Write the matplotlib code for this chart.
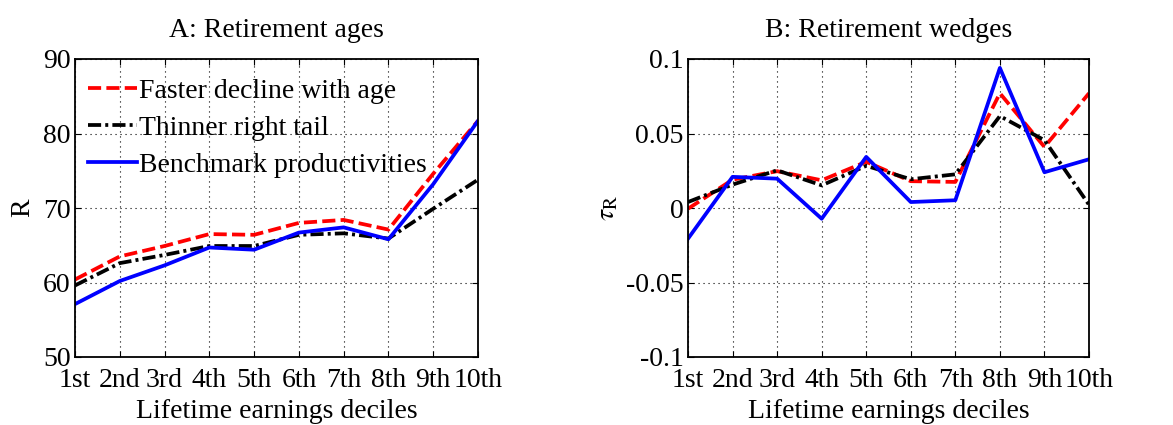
import numpy as np
import matplotlib
matplotlib.use('Agg')
import matplotlib.pyplot as plt

matplotlib.rcParams.update({'font.family': 'Liberation Serif',
                            'mathtext.fontset': 'stix',
                            'font.size': 20})

deciles = ['1st', '2nd', '3rd', '4th', '5th', '6th', '7th', '8th', '9th', '10th']

# Panel A: retirement ages
ages_faster = [60.4, 63.5, 64.9, 66.5, 66.4, 68.0, 68.4, 67.1, 74.6, 81.7]
ages_thinner = [59.6, 62.6, 63.7, 64.9, 64.9, 66.4, 66.6, 65.9, 69.9, 73.8]
ages_bench = [57.1, 60.2, 62.3, 64.7, 64.4, 66.7, 67.4, 65.8, 73.2, 81.7]

# Panel B: retirement wedges
wedge_faster = [-0.0005, 0.019, 0.0247, 0.0186, 0.031, 0.018, 0.0175, 0.077, 0.041, 0.077]
wedge_thinner = [0.004, 0.0157, 0.0253, 0.0152, 0.0283, 0.0193, 0.0226, 0.0617, 0.0455, 0.0022]
wedge_bench = [-0.0206, 0.0209, 0.0197, -0.0072, 0.0343, 0.004, 0.0052, 0.094, 0.024, 0.0327]

labels = ['Faster decline with age', 'Thinner right tail', 'Benchmark productivities']

x = np.arange(1, 11)

fig = plt.figure(figsize=(11.73, 4.25), dpi=100)
ax1 = fig.add_axes([75/1173, 1-357/425, 403/1173, 298/425])
ax2 = fig.add_axes([688/1173, 1-357/425, 401/1173, 298/425])

lw = 2.7
red_ls = (0, (3.5, 1.4))
blk_ls = (0, (3.5, 1.1, 0.8, 1.1))


def style(ax):
    ax.set_xlim(1, 10)
    ax.set_xticks(x)
    ax.set_xticklabels(deciles)
    ax.grid(True, color='black', linestyle=(0, (1, 3.5)), linewidth=0.8)
    ax.tick_params(direction='in', top=True, right=True, length=4, pad=3)
    ax.tick_params(axis='x', pad=8)
    for s in ax.spines.values():
        s.set_linewidth(1.3)
    ax.set_xlabel('Lifetime earnings deciles', labelpad=4)


ax1.plot(x, ages_faster, color='red', linestyle=red_ls, linewidth=lw, label=labels[0])
ax1.plot(x, ages_thinner, color='black', linestyle=blk_ls, linewidth=lw, label=labels[1])
ax1.plot(x, ages_bench, color='blue', linestyle='-', linewidth=lw, label=labels[2])
style(ax1)
ax1.set_ylim(50, 90)
ax1.set_yticks([50, 60, 70, 80, 90])
ax1.set_ylabel('R', labelpad=6)
ax1.set_title('A: Retirement ages', fontsize=20, pad=16)
ax1.legend(loc='upper left', bbox_to_anchor=(0.032, 0.935), frameon=False,
           handlelength=1.75, handletextpad=0.1, labelspacing=0.42,
           borderaxespad=0, borderpad=0)

ax2.plot(x, wedge_faster, color='red', linestyle=red_ls, linewidth=lw)
ax2.plot(x, wedge_thinner, color='black', linestyle=blk_ls, linewidth=lw)
ax2.plot(x, wedge_bench, color='blue', linestyle='-', linewidth=lw)
style(ax2)
ax2.set_ylim(-0.1, 0.1)
ax2.set_yticks([-0.1, -0.05, 0, 0.05, 0.1])
ax2.set_yticklabels(['-0.1', '-0.05', '0', '0.05', '0.1'])
ax2.set_ylabel(r'$\tau_{\mathrm{R}}$', labelpad=4)
ax2.set_title('B: Retirement wedges', fontsize=20, pad=16)

plt.savefig('out.png', dpi=100)
